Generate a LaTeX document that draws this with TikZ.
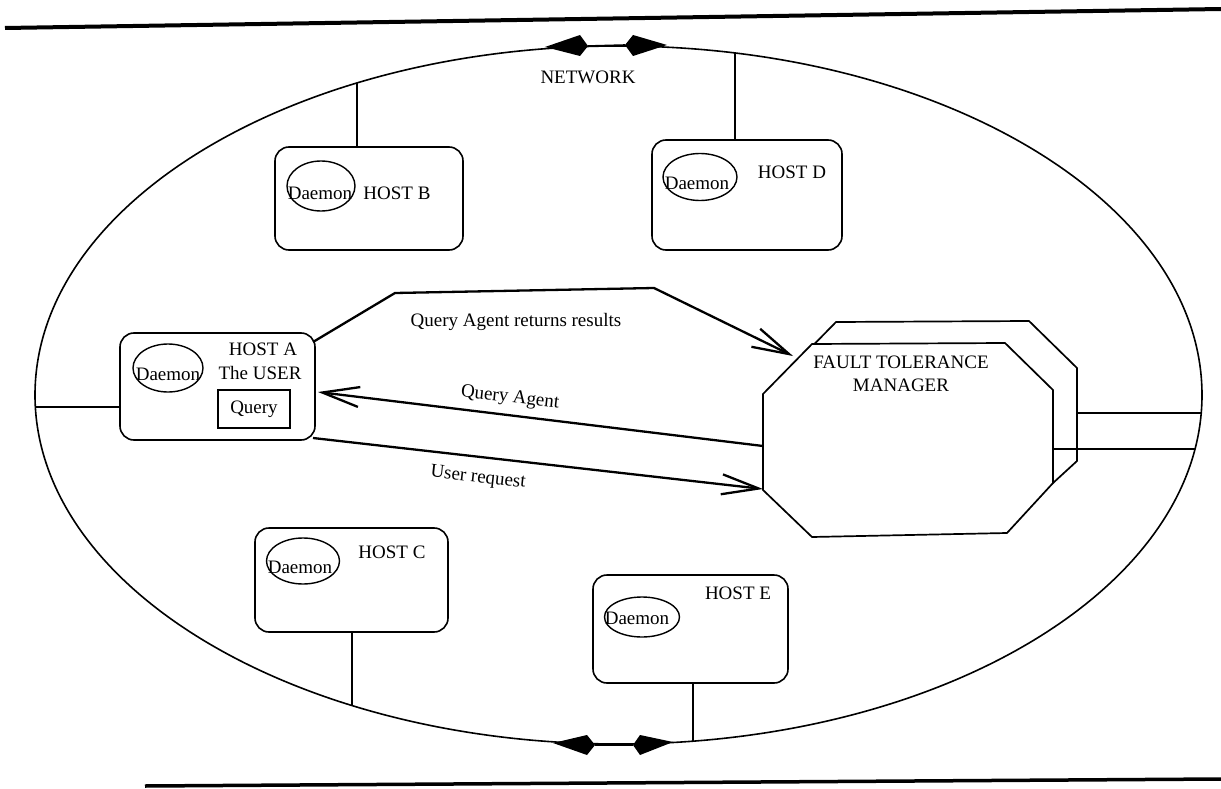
\documentclass[tikz,border=0pt]{standalone}
\usepackage{fontspec}
\setmainfont{Liberation Serif}
\usetikzlibrary{shapes.geometric,arrows.meta}
\begin{document}
\begin{tikzpicture}[x=1pt,y=-1pt,
  every node/.style={font=\fontsize{19}{23}\selectfont, inner sep=0pt},
  hostbox/.style={draw, line width=1.6pt, rounded corners=14pt, fill=white},
  daemon/.style={draw, ellipse, line width=1.4pt},
  querybox/.style={draw, line width=1.5pt},
  conn/.style={line width=1.5pt},
  rule/.style={line width=4pt},
  octo/.style={draw, line width=1.7pt, fill=white, line join=miter},
  flow/.style={line width=2.3pt, line join=miter, -{Straight Barb[length=37pt,width=20pt]}},
  kite/.style={fill=black}
]
\useasboundingbox (0,0) rectangle (1221,789);

% rules
\draw[rule] (5,28) -- (1221,9);
\draw[rule, line width=3.5pt] (145,786) -- (1221,779);

% network ellipse
\node[draw, ellipse, line width=1.6pt, minimum width=1167pt, minimum height=698pt] (net) at (618.5,395) {};

% points on the network
\coordinate (nA) at (35,407);
\coordinate (nB) at (357,83);
\coordinate (nD) at (735,53);
\coordinate (nC) at (352,706);
\coordinate (nE) at (693,741);
\coordinate (nF1) at (1201,413);
\coordinate (nF2) at (1195,449);

% network kites
\fill[kite] (545,47) -- (580,35) -- (588,46) -- (580,56) -- cycle;
\fill[kite] (625,45) -- (633,35) -- (667,45) -- (633,56) -- cycle;
\draw[line width=1.6pt] (588,46) -- (625,45);
\fill[kite] (553,743) -- (587,735) -- (595,745) -- (587,755) -- cycle;
\fill[kite] (633,745) -- (640,735) -- (673,742) -- (640,755) -- cycle;
\draw[line width=1.6pt] (595,745) -- (633,745);

\node at (588,77) {NETWORK};

% hosts
\node[hostbox, minimum width=195pt, minimum height=107pt] (hA) at (217.5,386.5) {};
\node[hostbox, minimum width=188pt, minimum height=103pt] (hB) at (369,198.5) {};
\node[hostbox, minimum width=193pt, minimum height=104pt] (hC) at (351.5,580) {};
\node[hostbox, minimum width=190pt, minimum height=110pt] (hD) at (747,195) {};
\node[hostbox, minimum width=195pt, minimum height=108pt] (hE) at (690.5,629) {};

% connectors hosts to network
\draw[conn] (hA.west |- nA) -- (nA);
\draw[conn] (hB.north -| nB) -- (nB);
\draw[conn] (hD.north -| nD) -- (nD);
\draw[conn] (hC.south -| nC) -- (nC);
\draw[conn] (hE.south -| nE) -- (nE);

% daemons
\node[daemon, minimum width=70pt, minimum height=48pt] (dA) at (168,368) {};
\node (dAt) at (168,374) {Daemon};
\node[daemon, minimum width=68pt, minimum height=50pt] (dB) at (321,186) {};
\node (dBt) at (320,193) {Daemon};
\node[daemon, minimum width=73pt, minimum height=46pt] (dC) at (303,561) {};
\node (dCt) at (300,567) {Daemon};
\node[daemon, minimum width=74pt, minimum height=47pt] (dD) at (700,177) {};
\node (dDt) at (697,183) {Daemon};
\node[daemon, minimum width=75pt, minimum height=40pt] (dE) at (642,617) {};
\node (dEt) at (637,618) {Daemon};

% host labels
\node (lA1) at (263,349) {HOST A};
\node (lA2) at (260,373) {The USER};
\node[querybox, minimum width=72pt, minimum height=38pt] (q) at (254,409) {Query};
\node (lB) at (397,193) {HOST B};
\node (lC) at (392,552) {HOST C};
\node (lD) at (792,172) {HOST D};
\node (lE) at (738,593) {HOST E};

% fault tolerance manager
\draw[octo] (836,322) -- (1029,321) -- (1077,368) -- (1077,461) -- (1053,483)
  -- (900,450) -- (787,372) -- cycle;
\draw[octo] (812,344) -- (1005,343) -- (1053,390) -- (1053,483) -- (1007,533)
  -- (812,537) -- (763,490) -- (763,394) -- cycle;
\node[align=center] (ftm) at (901,374) {FAULT TOLERANCE\\MANAGER};
\coordinate (fR1) at (1077,413);
\coordinate (fR2) at (1053,449);
\coordinate (fIn) at (793,356);
\coordinate (fOut) at (763,446);
\coordinate (fIn2) at (763,489);
\draw[conn, line width=1.7pt] (fR1) -- (nF1);
\draw[conn, line width=1.7pt] (fR2) -- (nF2);

% flows
\coordinate (aTop) at (313,342);
\coordinate (aIn) at (318,392);
\coordinate (aOut) at (313,438);
\draw[flow] (aTop) -- (395,293) -- (654,288) -- (fIn);
\draw[flow] (fOut) -- (aIn);
\draw[flow] (aOut) -- (fIn2);

\node (l1) at (516,322) {Query Agent returns results};
\node[rotate=-6.3] (l2) at (510,398) {Query Agent};
\node[rotate=-6.3] (l3) at (478,478) {User request};
\end{tikzpicture}
\end{document}
